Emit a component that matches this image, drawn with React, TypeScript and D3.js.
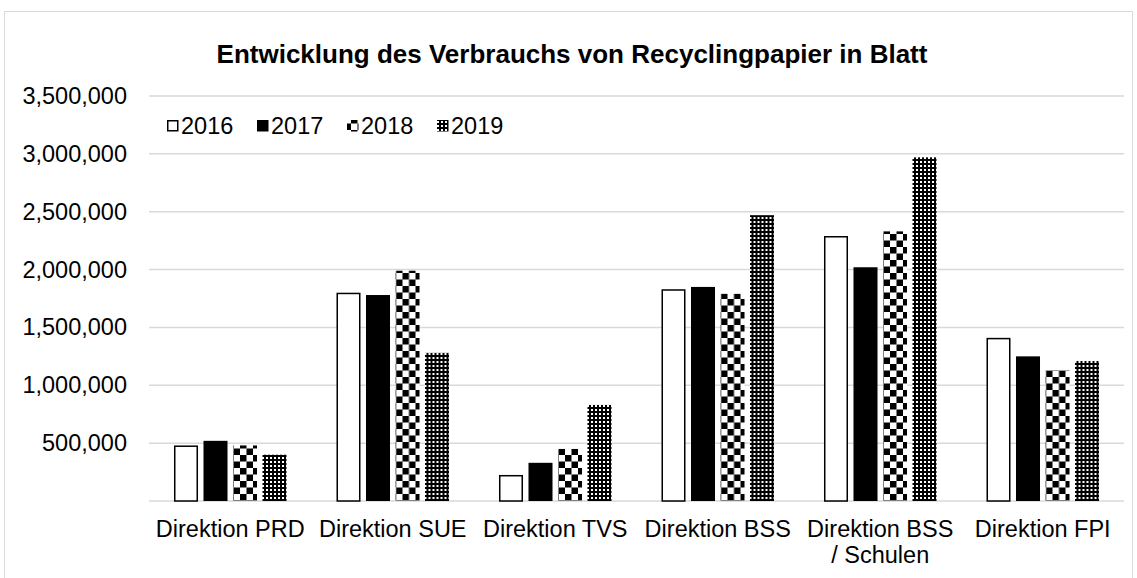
import React from 'react';
import * as d3 from 'd3';

const categories = [
  ['Direktion PRD'],
  ['Direktion SUE'],
  ['Direktion TVS'],
  ['Direktion BSS'],
  ['Direktion BSS', '/ Schulen'],
  ['Direktion FPI'],
];
const years = ['2016', '2017', '2018', '2019'];
const values2016 = [480000, 1800000, 225000, 1830000, 2290000, 1410000];
const values2017 = [520000, 1780000, 330000, 1850000, 2020000, 1250000];
const values2018 = [480000, 1990000, 450000, 1790000, 2330000, 1130000];
const values2019 = [400000, 1280000, 830000, 2470000, 2970000, 1210000];
const yTicks = [500000, 1000000, 1500000, 2000000, 2500000, 3000000, 3500000];

const series = [values2016, values2017, values2018, values2019];
const fills = ['#ffffff', '#000000', 'url(#checker)', 'url(#dots)'];
const FONT = 'Liberation Sans, Arial, sans-serif';

const W = 1137;
const H = 578;
const plot = { left: 149, right: 1124, top: 96, bottom: 501 };

export default function App() {
  const catIdx = categories.map((_, i) => String(i));
  const x0 = d3.scaleBand().domain(catIdx).range([plot.left, plot.right]).padding(0);
  const x1 = d3
    .scaleBand()
    .domain(years)
    .range([0, x0.bandwidth()])
    .paddingInner(0.186)
    .paddingOuter(0.847);
  const y = d3.scaleLinear().domain([0, 3500000]).range([plot.bottom, plot.top]);
  const fmt = d3.format(',');

  return (
    <svg
      width={W}
      height={H}
      style={{ position: 'absolute', left: 0, top: 0, background: '#fff' }}
      fontFamily={FONT}
    >
      <defs>
        <pattern id="checker" patternUnits="userSpaceOnUse" width={13} height={13}>
          <rect width={13} height={13} fill="#fff" />
          <rect x={0} y={0} width={6.5} height={6.5} fill="#000" />
          <rect x={6.5} y={6.5} width={6.5} height={6.5} fill="#000" />
        </pattern>
        <pattern id="dots" patternUnits="userSpaceOnUse" width={4} height={4}>
          <rect width={4} height={4} fill="#000" />
          <rect x={1} y={1} width={2} height={2} fill="#fff" />
        </pattern>
      </defs>

      <rect x={4.5} y={11.5} width={1128} height={600} fill="none" stroke="#d9d9d9" />

      <text
        x={572}
        y={63}
        textAnchor="middle"
        fontWeight="bold"
        fontSize={26}
        fill="#000"
      >
        Entwicklung des Verbrauchs von Recyclingpapier in Blatt
      </text>

      {/* grid */}
      {yTicks.map((t) => (
        <g key={t}>
          <line
            x1={plot.left}
            x2={plot.right}
            y1={y(t)}
            y2={y(t)}
            stroke="#d9d9d9"
            strokeWidth={1.5}
          />
          <text x={127} y={y(t) + 8} textAnchor="end" fontSize={23.5} fill="#000">
            {fmt(t)}
          </text>
        </g>
      ))}
      <line
        x1={plot.left}
        x2={plot.right}
        y1={y(0)}
        y2={y(0)}
        stroke="#d9d9d9"
        strokeWidth={1.5}
      />

      {/* bars */}
      {catIdx.map((c, i) => (
        <g key={c} transform={`translate(${x0(c)},0)`}>
          {years.map((yr, j) => {
            const v = series[j][i];
            const bx = x1(yr)!;
            const top = y(v);
            return j === 0 ? (
              <rect
                key={yr}
                x={bx + 0.75}
                y={top + 0.75}
                width={x1.bandwidth() - 1.5}
                height={y(0) - top - 0.75}
                fill="#fff"
                stroke="#000"
                strokeWidth={1.5}
              />
            ) : (
              <rect
                key={yr}
                x={bx}
                y={top}
                width={x1.bandwidth()}
                height={y(0) - top}
                fill={fills[j]}
              />
            );
          })}
        </g>
      ))}

      {/* category labels */}
      {categories.map((lines, i) => (
        <text
          key={i}
          x={x0(String(i))! + x0.bandwidth() / 2}
          y={537}
          textAnchor="middle"
          fontSize={23.5}
          fill="#000"
        >
          {lines.map((l, k) => (
            <tspan key={k} x={x0(String(i))! + x0.bandwidth() / 2} dy={k === 0 ? 0 : 26}>
              {l}
            </tspan>
          ))}
        </text>
      ))}

      {/* legend */}
      {years.map((yr, j) => {
        const lx = 167 + j * 90;
        const ly = 120;
        return (
          <g key={yr}>
            {j === 0 ? (
              <rect x={lx + 0.75} y={ly + 0.75} width={10} height={10} fill="#fff" stroke="#000" strokeWidth={1.5} />
            ) : (
              <rect x={lx} y={ly} width={11.5} height={11.5} fill={fills[j]} />
            )}
            <text x={lx + 14} y={ly + 14} fontSize={23.5} fill="#000">
              {yr}
            </text>
          </g>
        );
      })}
    </svg>
  );
}
